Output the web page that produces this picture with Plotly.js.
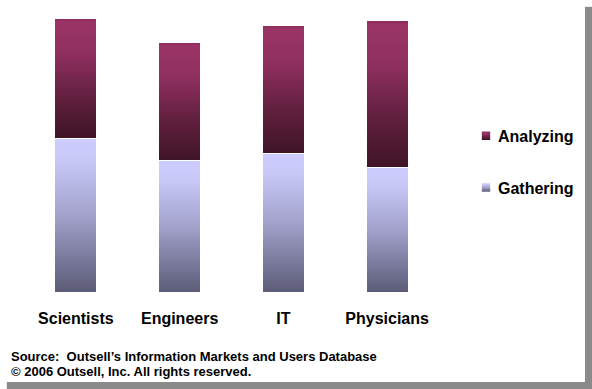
<!DOCTYPE html>
<html>
<head>
<meta charset="utf-8">
<script src="https://cdn.plot.ly/plotly-3.0.1.min.js"></script>
<style>
  html, body { margin: 0; padding: 0; background: #ffffff; }
  #bg { position: absolute; left: 0; top: 0; width: 585px; height: 382px; background: #ffffff; box-shadow: 7px 7px 1px #8a8a8a; }
  #chart { position: absolute; left: 0; top: 0; width: 592px; height: 389px; }
</style>
</head>
<body>
<div id="bg"></div>
<div id="chart"></div>
<script>
// Data (arbitrary units)
const categories = ["Scientists", "Engineers", "IT", "Physicians"];
const gathering  = [7.7, 6.6, 6.95, 6.25];
const analyzing  = [6.0, 5.9, 6.4, 7.35];
const seriesNames = ["Gathering", "Analyzing"];
const sourceLines = ["Source:  Outsell\u2019s Information Markets and Users Database", "\u00a9 2006 Outsell, Inc. All rights reserved."];

const data = [
  { type: "bar", name: seriesNames[0], x: categories, y: gathering, legendgroup: "g", legendrank: 2,
    marker: { color: "#a8a8d8", line: { color: "#ffffff", width: 1 } } },
  { type: "bar", name: seriesNames[1], x: categories, y: analyzing, legendgroup: "a", legendrank: 1,
    marker: { color: "#7a2850", line: { color: "#ffffff", width: 1 } } }
];

const layout = {
  width: 592, height: 389,
  margin: { l: 24, r: 153, t: 18, b: 97 },
  paper_bgcolor: "rgba(0,0,0,0)", plot_bgcolor: "rgba(0,0,0,0)",
  barmode: "stack", bargap: 0.595,
  font: { family: "Arial, 'Liberation Sans', sans-serif", color: "#000000" },
  xaxis: { showgrid: false, zeroline: false, showline: false, ticks: "",
           tickfont: { size: 16, weight: "bold", color: "#000" }, ticklabelstandoff: 15 },
  yaxis: { range: [0, 13.7], visible: false, showgrid: false, zeroline: false },
  legend: { x: 1.0458, xanchor: "left", y: 0.632, yanchor: "top", traceorder: "grouped",
            tracegroupgap: 28, font: { size: 16, weight: "bold", color: "#000" }, bgcolor: "rgba(0,0,0,0)" },
  annotations: sourceLines.map(function (s, i) {
    return {
      xref: "paper", yref: "paper", x: -15/415, y: (292 - (356 + 15 * i))/274, xanchor: "left", yanchor: "middle",
      align: "left", showarrow: false, text: s,
      font: { size: 13, weight: "bold", color: "#000" }
    };
  })
};

Plotly.newPlot("chart", data, layout, { staticPlot: true, displayModeBar: false }).then(function (gd) {
  const ns = "http://www.w3.org/2000/svg";
  const svg = gd.querySelector(".main-svg");
  let defs = svg.querySelector("defs");
  if (!defs) { defs = document.createElementNS(ns, "defs"); svg.insertBefore(defs, svg.firstChild); }
  function grad(id, stops) {
    const g = document.createElementNS(ns, "linearGradient");
    g.setAttribute("id", id);
    g.setAttribute("x1", "0"); g.setAttribute("y1", "0");
    g.setAttribute("x2", "0"); g.setAttribute("y2", "1");
    stops.forEach(function (s) {
      const st = document.createElementNS(ns, "stop");
      st.setAttribute("offset", s[0]); st.setAttribute("stop-color", s[1]);
      g.appendChild(st);
    });
    defs.appendChild(g);
  }
  grad("gradG", [[0, "#ccccff"], [0.15, "#c8c8f8"], [0.5, "#a2a2cc"], [0.85, "#707090"], [1, "#5c5c78"]]);
  grad("gradA", [[0, "#8e2d5c"], [0.04, "#9a3467"], [0.3, "#8f2f60"], [0.65, "#62203f"], [1, "#3f1427"]]);
  const ids = ["gradG", "gradA"];
  gd.querySelectorAll(".barlayer .trace").forEach(function (t, i) {
    t.querySelectorAll("path").forEach(function (p) { p.style.fill = "url(#" + ids[i] + ")"; });
  });
  gd.querySelectorAll(".legend .traces").forEach(function (t) {
    const txt = t.querySelector(".legendtext").textContent;
    const id = txt === seriesNames[0] ? "gradG" : "gradA";
    t.querySelectorAll(".legendpoints path").forEach(function (p) {
      p.style.fill = "url(#" + id + ")";
      p.style.stroke = "none";
      p.setAttribute("transform", "translate(8,0) " + (p.getAttribute("transform") || "") + " scale(0.7)");
    });
  });
});
</script>
</body>
</html>
